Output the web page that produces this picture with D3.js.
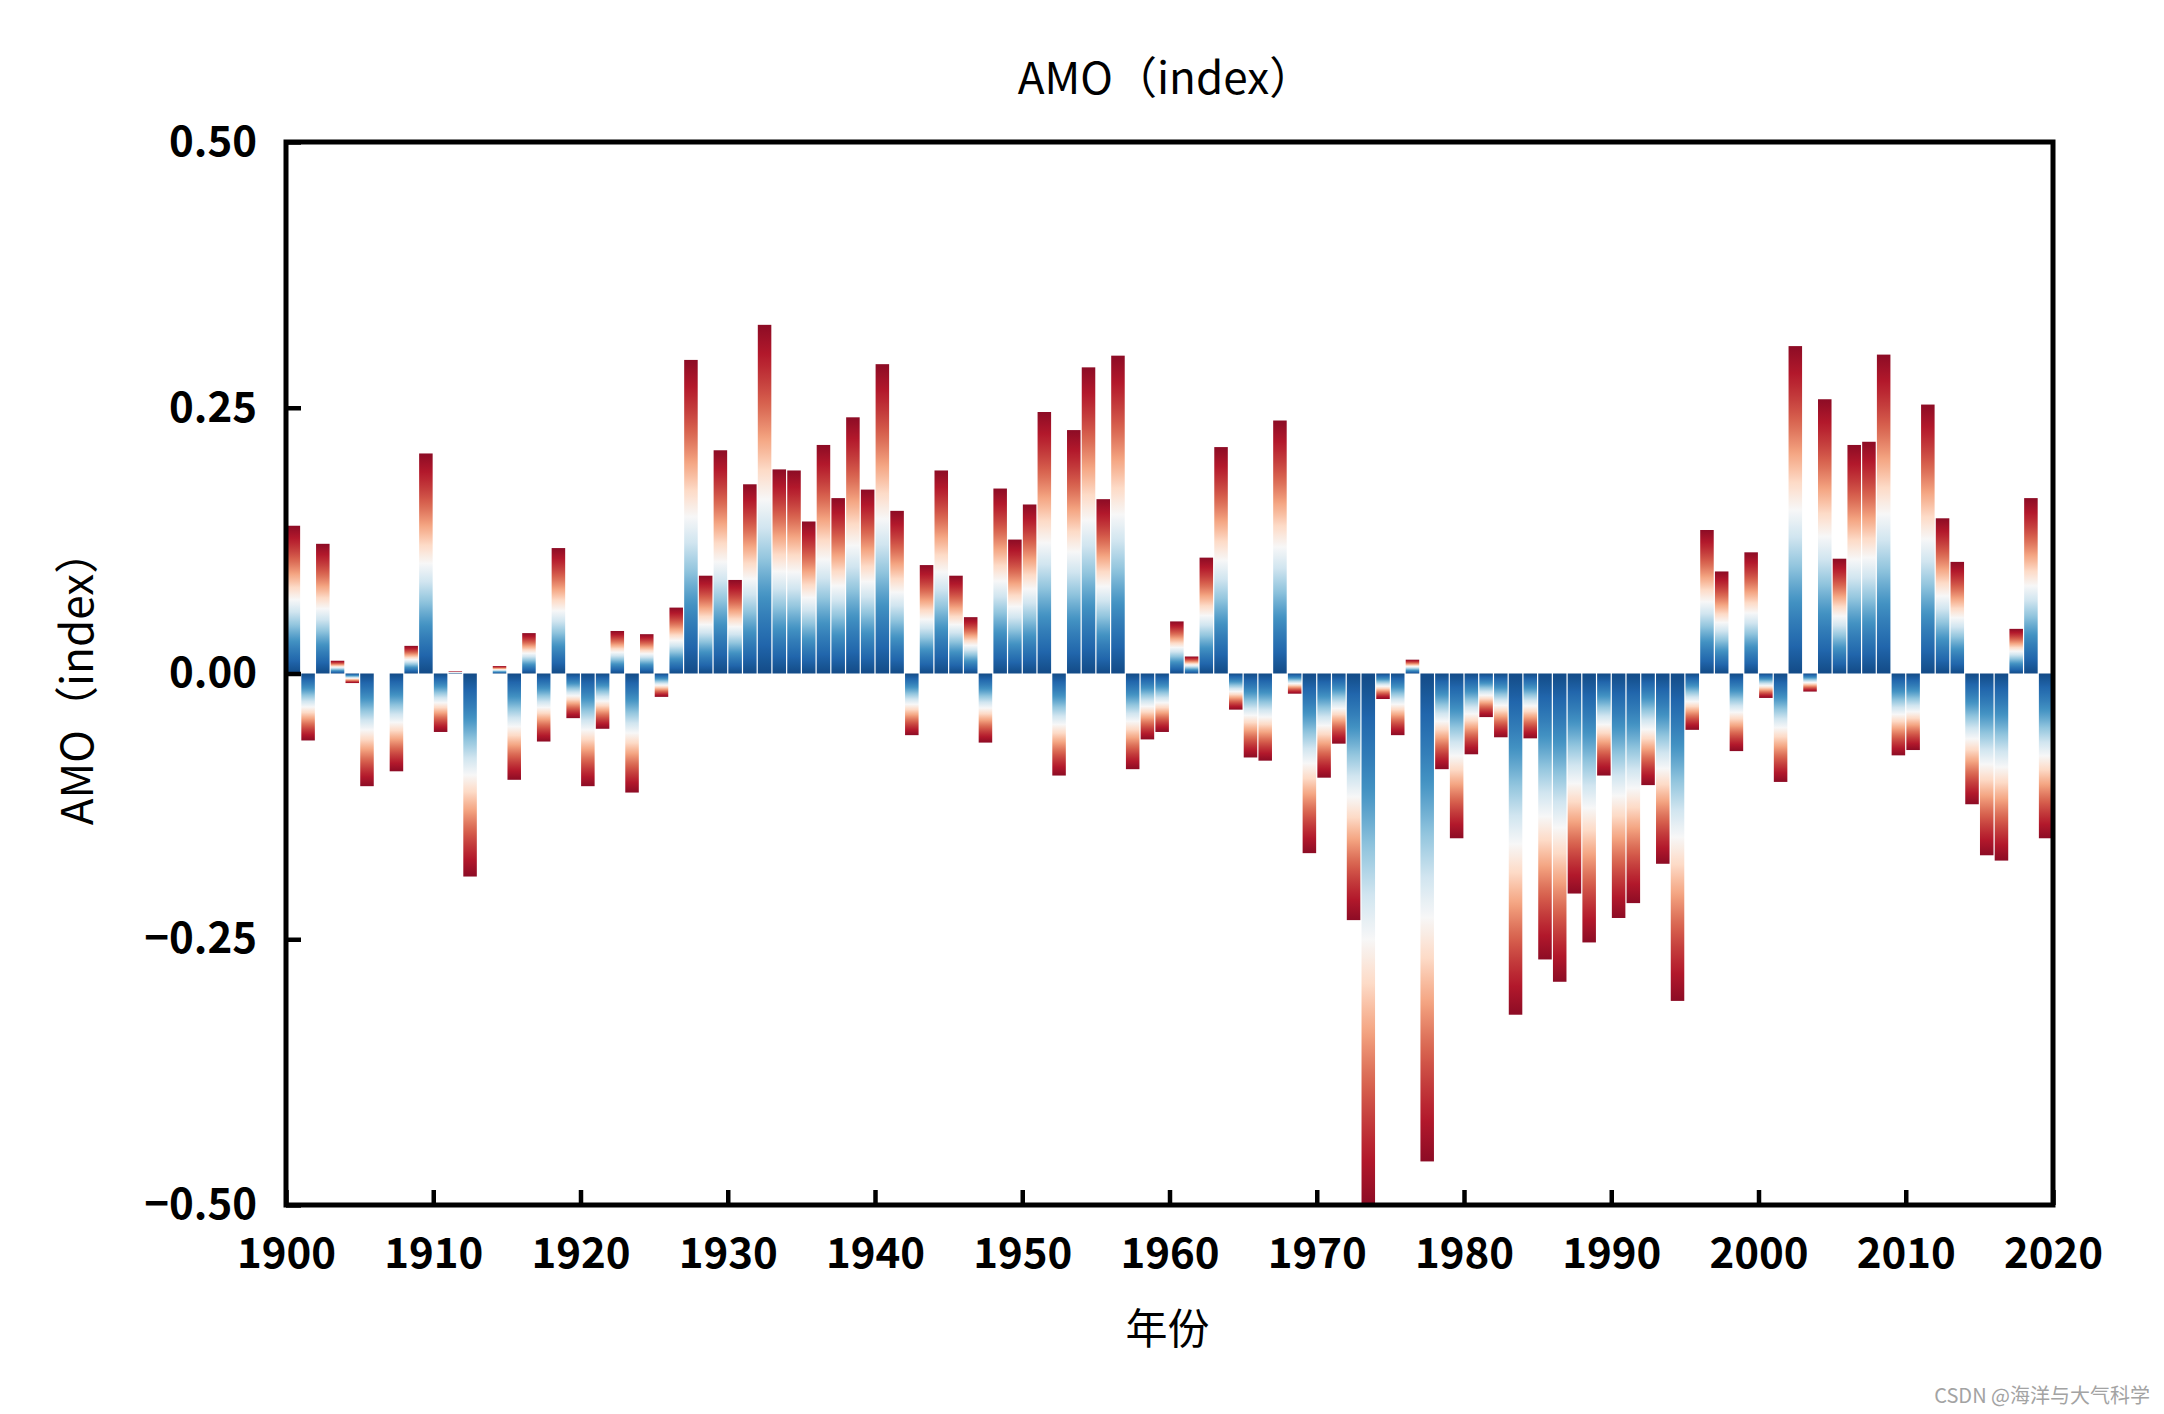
<!DOCTYPE html>
<html>
<head>
<meta charset="utf-8">
<script src="https://cdn.jsdelivr.net/npm/d3@7"></script>
<style>
  html, body { margin: 0; padding: 0; background: #fff; }
  svg { display: block; }
</style>
</head>
<body>
<div id="chart"></div>
<script>
// ---------------- data ----------------
const startYear = 1900;
const amoValues = [
  0.139, -0.063, 0.122, 0.012, -0.009, -0.106, 0.000, -0.092, 0.026, 0.207,   // 1900-1909
  -0.055, 0.002, -0.191, 0.000, 0.007, -0.100, 0.038, -0.064, 0.118, -0.042,  // 1910-1919
  -0.106, -0.052, 0.040, -0.112, 0.037, -0.022, 0.062, 0.295, 0.092, 0.210,   // 1920-1929
  0.088, 0.178, 0.328, 0.192, 0.191, 0.143, 0.215, 0.165, 0.241, 0.173,       // 1930-1939
  0.291, 0.153, -0.058, 0.102, 0.191, 0.092, 0.053, -0.065, 0.174, 0.126,     // 1940-1949
  0.159, 0.246, -0.096, 0.229, 0.288, 0.164, 0.299, -0.090, -0.062, -0.055,   // 1950-1959
  0.049, 0.016, 0.109, 0.213, -0.034, -0.079, -0.082, 0.238, -0.019, -0.169,  // 1960-1969
  -0.098, -0.066, -0.232, -0.500, -0.024, -0.058, 0.013, -0.459, -0.090, -0.155, // 1970-1979
  -0.076, -0.041, -0.060, -0.321, -0.061, -0.269, -0.290, -0.207, -0.253, -0.096, // 1980-1989
  -0.230, -0.216, -0.105, -0.179, -0.308, -0.053, 0.135, 0.096, -0.073, 0.114, // 1990-1999
  -0.023, -0.102, 0.308, -0.017, 0.258, 0.108, 0.215, 0.218, 0.300, -0.077,   // 2000-2009
  -0.072, 0.253, 0.146, 0.105, -0.123, -0.171, -0.176, 0.042, 0.165, -0.155   // 2010-2019
];
const years = amoValues.map((v, i) => startYear + i);
const xTicks = [1900, 1910, 1920, 1930, 1940, 1950, 1960, 1970, 1980, 1990, 2000, 2010, 2020];
const yTicks = [-0.5, -0.25, 0, 0.25, 0.5];
const titleText = "AMO（index）";
const yLabelText = "AMO（index）";
const xLabelText = "年份";
const watermarkText = "CSDN @海洋与大气科学";
// RdBu_r colormap anchors (blue at bar base -> red at bar tip)
const rdbuR = ["#053061", "#2166ac", "#4393c3", "#92c5de", "#d1e5f0", "#f7f7f7",
               "#fddbc7", "#f4a582", "#d6604d", "#b2182b", "#67001f"];

// ---------------- layout ----------------
const W = 2164, H = 1414;
const plot = { left: 286, right: 2053, top: 142, bottom: 1205 };
const FONT = "'Noto Sans CJK SC', 'Noto Sans', sans-serif";

const svg = d3.select("#chart").append("svg")
  .attr("width", W).attr("height", H)
  .style("background", "#fff");

const x = d3.scaleLinear().domain([1900, 2020]).range([plot.left, plot.right]);
const y = d3.scaleLinear().domain([-0.5, 0.5]).range([plot.bottom, plot.top]);

// gradients: base (0) blue -> white -> red at the bar tip
const defs = svg.append("defs");
const cmapFull = d3.scaleLinear()
  .domain(d3.range(rdbuR.length).map(i => i / (rdbuR.length - 1)))
  .range(rdbuR).interpolate(d3.interpolateRgb);
// smooth contrast curve: a little more of each bar in saturated colours
const contrast = t => t - 0.35 * Math.sin(2 * Math.PI * t) / (2 * Math.PI);
const cmap = t => cmapFull(0.05 + 0.90 * contrast(t));
function addGrad(id, x1, y1, x2, y2) {
  const g = defs.append("linearGradient").attr("id", id)
    .attr("x1", x1).attr("y1", y1).attr("x2", x2).attr("y2", y2);
  d3.range(0, 61).forEach(i => {
    const t = i / 60;
    g.append("stop").attr("offset", t).attr("stop-color", cmap(t));
  });
}
addGrad("gradPos", 0, 1, 0, 0);
addGrad("gradNeg", 0, 0, 0, 1);

defs.append("clipPath").attr("id", "plotClip")
  .append("rect")
  .attr("x", plot.left).attr("y", plot.top)
  .attr("width", plot.right - plot.left).attr("height", plot.bottom - plot.top);

const data = years.map((yr, i) => ({ year: yr, value: amoValues[i] }));

svg.append("g").attr("clip-path", "url(#plotClip)")
  .selectAll("rect.bar")
  .data(data.filter(d => d.value !== 0))
  .join("rect")
  .attr("class", "bar")
  .attr("x", d => x(d.year) + 0.6)
  .attr("width", d => x(d.year + 1) - x(d.year) - 1.2)
  .attr("y", d => Math.min(y(d.value), y(0)))
  .attr("height", d => Math.max(Math.abs(y(d.value) - y(0)), 1))
  .attr("fill", d => d.value > 0 ? "url(#gradPos)" : "url(#gradNeg)");

// axes
const xAxis = d3.axisBottom(x).tickValues(xTicks).tickFormat(d3.format("d"))
  .tickSize(-15).tickPadding(33);
const yAxis = d3.axisLeft(y).tickValues(yTicks)
  .tickFormat(d => d3.format(".2f")(d).replace("-", "−"))
  .tickSize(-15).tickPadding(29);

const gx = svg.append("g").attr("transform", `translate(0,${plot.bottom})`).call(xAxis);
const gy = svg.append("g").attr("transform", `translate(${plot.left},0)`).call(yAxis);
[gx, gy].forEach(g => {
  g.select(".domain").remove();
  g.selectAll(".tick line").attr("stroke", "#000").attr("stroke-width", 4.5);
  g.selectAll(".tick text")
    .attr("fill", "#000")
    .style("font-family", FONT)
    .style("font-weight", "bold")
    .style("font-size", "42px");
});

// frame
svg.append("rect")
  .attr("x", plot.left).attr("y", plot.top)
  .attr("width", plot.right - plot.left).attr("height", plot.bottom - plot.top)
  .attr("fill", "none").attr("stroke", "#000").attr("stroke-width", 5);

// title
svg.append("text")
  .attr("x", (plot.left + plot.right) / 2 - 4).attr("y", 94)
  .attr("text-anchor", "middle")
  .style("font-family", FONT).style("font-size", "44px").attr("fill", "#000")
  .text(titleText);

// y label
svg.append("text")
  .attr("transform", `translate(93,${(plot.top + plot.bottom) / 2 + 4}) rotate(-90)`)
  .attr("text-anchor", "middle")
  .style("font-family", FONT).style("font-size", "44px").attr("fill", "#000")
  .text(yLabelText);

// x label
svg.append("text")
  .attr("x", (plot.left + plot.right) / 2 - 2).attr("y", 1344)
  .attr("text-anchor", "middle")
  .style("font-family", FONT).style("font-size", "42px").attr("fill", "#000")
  .text(xLabelText);

// watermark
svg.append("text")
  .attr("x", 2150).attr("y", 1403)
  .attr("text-anchor", "end")
  .style("font-family", FONT).style("font-size", "20px").attr("fill", "#a3a3a3")
  .text(watermarkText);
</script>
</body>
</html>
